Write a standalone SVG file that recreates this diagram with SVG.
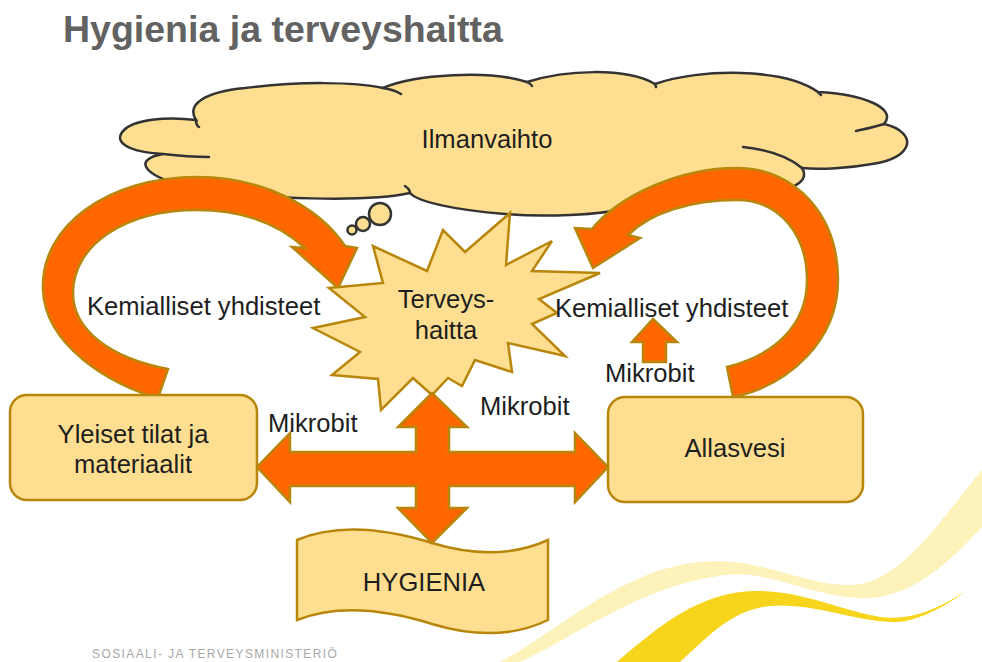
<svg xmlns="http://www.w3.org/2000/svg" width="982" height="662" viewBox="0 0 982 662">
  <style>
    text { font-family: "Liberation Sans", Arial, sans-serif; fill: #1e1e1e; }
    .lbl { font-size: 25.6px; }
    .mid { text-anchor: middle; }
    .shape { fill: #FEDF91; stroke: #B8860B; stroke-width: 2.5; stroke-linejoin: miter; }
    .arrow { fill: #FF6600; stroke: #B8860B; stroke-width: 2.5; stroke-linejoin: miter; }
    .cloud { fill: #FEDF91; stroke: #333; stroke-width: 2.5; }
    .tick { fill: none; stroke: #333; stroke-width: 2.5; stroke-linecap: round; }
  </style>

  <rect width="982" height="662" fill="#fff"/>

  <!-- decorative swooshes, bottom right -->
  <g id="swoosh">
    <path d="M 500,662 C 560,630 620,570 700,562 C 760,556 800,585 850,585 C 900,585 940,520 982,470 L 982,527 C 950,562 910,600 860,598 C 810,596 770,570 725,575 C 640,585 570,640 520,662 Z" fill="#FCF2BA"/>
    <path d="M 617,662 C 660,625 700,592 755,591 C 800,590 840,610 880,617 C 920,622 950,600 965,592 C 945,606 915,624 890,622 C 850,620 810,602 770,606 C 730,610 705,640 680,662 Z" fill="#F7D51D"/>
  </g>

  <!-- title -->
  <text x="63" y="42" font-size="37.5" font-weight="bold" style="fill:#626262">Hygienia ja terveyshaitta</text>

  <!-- ventilation cloud -->
  <g id="ilmanvaihto">
    <path class="cloud" d="M 163,154 C 128,152 112,142 124,130 C 134,120 165,116 196,120 C 186,104 205,92 245,88 C 300,81 355,82 383,88 C 415,74 490,70 527,82 C 565,70 625,67 655,84 C 700,68 785,68 818,92 C 862,94 898,108 884,124 C 918,132 915,158 872,164 C 850,168 820,170 802,168 C 812,184 785,194 740,196 C 700,199 660,201 633,207 C 600,216 540,217 505,214 C 455,210 418,202 410,193 C 370,202 260,200 195,188 C 145,178 130,160 163,154 Z"/>
    <path class="tick" d="M 163,154 C 180,156 195,157 209,157 M 196,120 C 196,124 197,126 199,127 M 383,88 C 390,89 396,91 401,94 M 527,82 C 529,83 531,84 532,86 M 655,84 L 656,87 M 818,92 L 821,95 M 884,124 C 875,127 865,129 856,131 M 802,168 C 790,158 770,150 743,147 M 410,193 C 410,190 408,188 405,186"/>
    <circle class="cloud" cx="380" cy="214" r="11"/>
    <circle class="cloud" cx="363" cy="224" r="7"/>
    <circle class="cloud" cx="352" cy="230" r="4.5"/>
    <text class="lbl mid" x="487" y="148">Ilmanvaihto</text>
  </g>

  <!-- connectors -->
  <g id="connectors">
    <path class="arrow" d="M 158,398 C 110,385 45,345 43,290 C 40,225 110,177 197,177 C 262,177 318,206 345,246 L 357,248 L 338,288 L 292,247 L 305,248 C 280,225 245,210 197,210 C 125,210 73,245 73,293 C 73,330 110,358 168,369 Z"/>
    <path class="arrow" d="M 733,397 C 790,385 838,340 838,280 C 838,215 795,168 737,168 C 680,168 620,195 592,229 L 575,228 L 593,268 L 640,238 L 628,235 C 650,213 690,200 737,200 C 780,200 807,235 807,280 C 807,325 775,355 727,367 Z"/>
    <path class="arrow" d="M 653,319 L 677,342 L 666,342 L 666,362 L 643,362 L 643,342 L 632,342 Z"/>
  </g>

  <!-- health hazard burst -->
  <g id="terveyshaitta">
    <polygon class="shape" points="510,213 506,265 552,241 532,271 600,273 539,299 557,313 532,324 565,356 508,343 512,372 475,360 462,386 448,378 432,395 413,378 381,410 378,379 332,375 360,352 313,328 365,317 329,288 383,283 373,246 427,271 443,230 465,252"/>
    <text class="lbl mid" x="446" y="308">Terveys-</text>
    <text class="lbl mid" x="446" y="339">haitta</text>
  </g>

  <!-- hygiene banner -->
  <g id="hygienia">
    <path class="shape" d="M 297,540 C 340,522 390,530 432,543 C 475,556 515,555 548,540 L 548,620 C 515,636 475,637 432,624 C 390,611 340,603 297,620 Z"/>
    <text class="lbl mid" x="424" y="591">HYGIENIA</text>
  </g>

  <!-- spaces and materials -->
  <g id="yleiset-tilat">
    <rect class="shape" x="10" y="395" width="247" height="105" rx="17"/>
    <text class="lbl mid" x="133" y="443">Yleiset tilat ja</text>
    <text class="lbl mid" x="133" y="473">materiaalit</text>
  </g>

  <!-- pool water -->
  <g id="allasvesi">
    <rect class="shape" x="608" y="397" width="255" height="105" rx="17"/>
    <text class="lbl mid" x="735" y="457">Allasvesi</text>
  </g>

  <!-- four-way arrow between the nodes -->
  <g id="cross-arrow">
    <path class="arrow" d="M 432,393 L 467,427 L 449,427 L 449,452 L 575,452 L 575,433 L 608,467 L 575,502 L 575,486 L 449,486 L 449,508 L 467,508 L 432,543 L 398,508 L 416,508 L 416,486 L 290,486 L 290,502 L 257,467 L 290,433 L 290,452 L 416,452 L 416,427 L 398,427 Z"/>
  </g>

  <!-- connector labels -->
  <g id="labels">
    <text class="lbl" x="87" y="315">Kemialliset yhdisteet</text>
    <text class="lbl" x="555" y="317">Kemialliset yhdisteet</text>
    <text class="lbl" x="605" y="382">Mikrobit</text>
    <text class="lbl" x="268" y="432">Mikrobit</text>
    <text class="lbl" x="480" y="415">Mikrobit</text>
  </g>

  <!-- footer -->
  <text x="92" y="658" font-size="12" letter-spacing="1.4" style="fill:#a8a8a8">SOSIAALI- JA TERVEYSMINISTERIÖ</text>
</svg>
